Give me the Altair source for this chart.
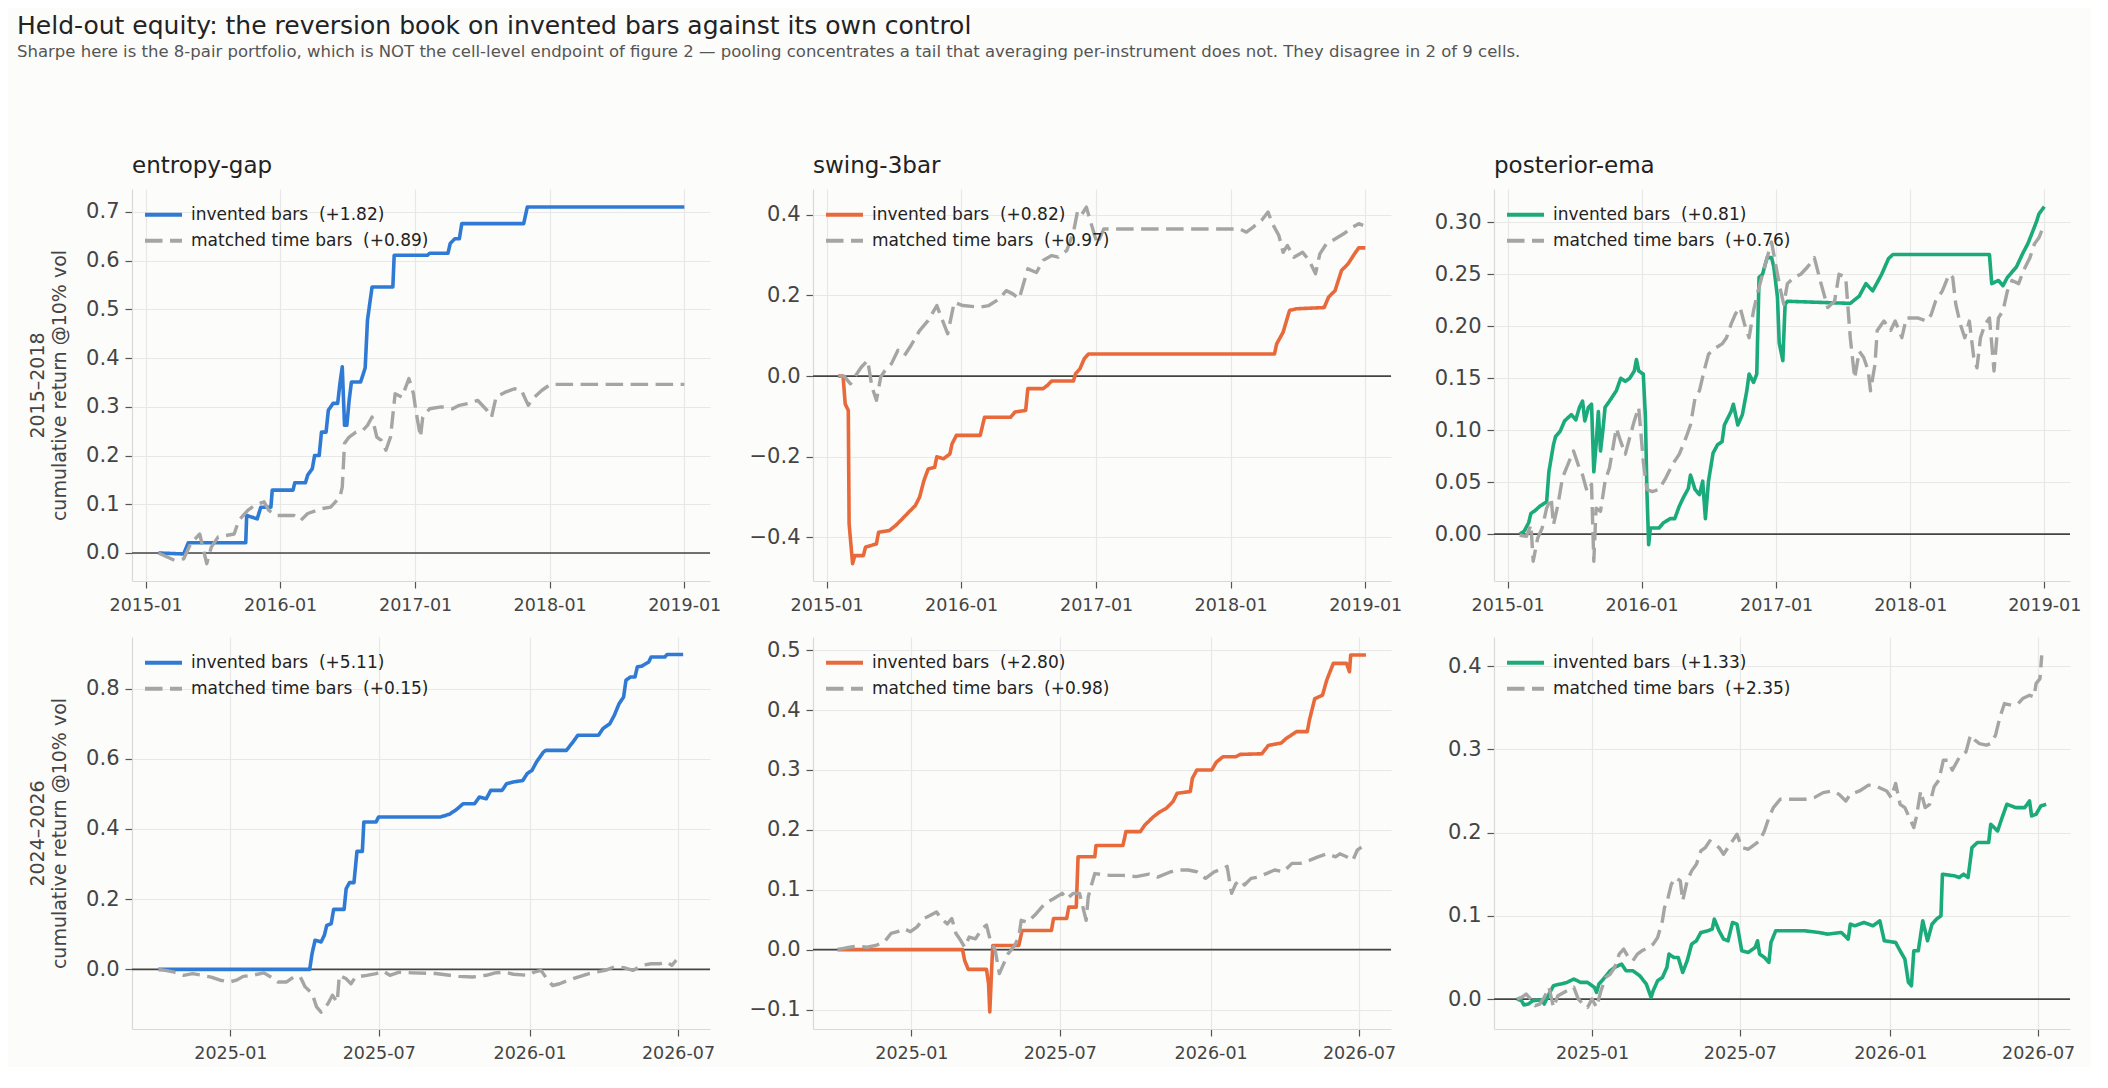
import altair as alt
import pandas as pd

TITLE = "Held-out equity: the reversion book on invented bars against its own control"
SUBTITLE = ("Sharpe here is the 8-pair portfolio, which is NOT the cell-level endpoint of figure 2 \u2014 "
            "pooling concentrates a tail that averaging per-instrument does not. They disagree in 2 of 9 cells.")

STRATEGIES = ["entropy-gap", "swing-3bar", "posterior-ema"]
PERIODS = ["2015\u20132018", "2024\u20132026"]
COLORS = ["#2f7ad4", "#e8693a", "#1aaa7b"]
GRAY = "#a5a5a5"

SHARPE_INV = [["+1.82", "+0.82", "+0.81"], ["+5.11", "+2.80", "+1.33"]]
SHARPE_MAT = [["+0.89", "+0.97", "+0.76"], ["+0.15", "+0.98", "+2.35"]]

# (decimal year, cumulative return)
EG15_INV = [(2015.095, 0.000), (2015.283, -0.002), (2015.317, 0.021), (2015.744, 0.021), (2015.751, 0.077),
            (2015.829, 0.070), (2015.856, 0.094), (2015.931, 0.094), (2015.941, 0.129), (2016.095, 0.129),
            (2016.108, 0.144), (2016.187, 0.144), (2016.204, 0.160), (2016.238, 0.173), (2016.255, 0.200),
            (2016.289, 0.200), (2016.306, 0.248), (2016.340, 0.248), (2016.357, 0.293), (2016.392, 0.307),
            (2016.426, 0.307), (2016.443, 0.348), (2016.460, 0.382), (2016.477, 0.262), (2016.494, 0.262),
            (2016.511, 0.313), (2016.528, 0.351), (2016.596, 0.351), (2016.613, 0.365), (2016.630, 0.380),
            (2016.647, 0.478), (2016.681, 0.546), (2016.835, 0.546), (2016.845, 0.611), (2017.091, 0.611),
            (2017.108, 0.615), (2017.244, 0.615), (2017.261, 0.635), (2017.295, 0.645), (2017.329, 0.645),
            (2017.347, 0.676), (2017.807, 0.676), (2017.834, 0.710), (2019.001, 0.710)]
EG15_MAT = [(2015.095, 0.000), (2015.215, -0.015), (2015.283, -0.012), (2015.334, 0.019), (2015.402, 0.039),
            (2015.454, -0.022), (2015.488, 0.012), (2015.539, 0.033), (2015.658, 0.039), (2015.692, 0.067),
            (2015.761, 0.088), (2015.812, 0.098), (2015.880, 0.105), (2015.914, 0.088), (2015.965, 0.077),
            (2016.102, 0.077), (2016.153, 0.067), (2016.204, 0.081), (2016.306, 0.091), (2016.374, 0.094),
            (2016.443, 0.115), (2016.460, 0.135), (2016.477, 0.225), (2016.511, 0.238), (2016.562, 0.248),
            (2016.613, 0.252), (2016.647, 0.262), (2016.681, 0.279), (2016.716, 0.238), (2016.750, 0.231),
            (2016.784, 0.211), (2016.818, 0.238), (2016.852, 0.327), (2016.903, 0.320), (2016.954, 0.358),
            (2016.988, 0.327), (2017.005, 0.293), (2017.040, 0.238), (2017.057, 0.279), (2017.108, 0.296),
            (2017.193, 0.300), (2017.278, 0.296), (2017.329, 0.303), (2017.398, 0.307), (2017.466, 0.313),
            (2017.534, 0.293), (2017.568, 0.279), (2017.602, 0.320), (2017.670, 0.330), (2017.739, 0.337),
            (2017.790, 0.334), (2017.841, 0.303), (2017.875, 0.317), (2017.943, 0.334), (2017.995, 0.344),
            (2018.012, 0.346), (2019.001, 0.346)]

SW15_INV = [(2015.087, 0.000), (2015.122, 0.000), (2015.138, -0.069), (2015.161, -0.085), (2015.167, -0.366),
            (2015.193, -0.465), (2015.209, -0.445), (2015.273, -0.445), (2015.289, -0.424), (2015.370, -0.416),
            (2015.386, -0.387), (2015.466, -0.383), (2015.514, -0.370), (2015.562, -0.354), (2015.611, -0.337),
            (2015.659, -0.321), (2015.691, -0.300), (2015.723, -0.259), (2015.755, -0.230), (2015.803, -0.226),
            (2015.819, -0.200), (2015.868, -0.205), (2015.916, -0.193), (2015.932, -0.168), (2015.964, -0.147),
            (2016.141, -0.147), (2016.173, -0.102), (2016.366, -0.102), (2016.398, -0.089), (2016.478, -0.085),
            (2016.494, -0.031), (2016.607, -0.031), (2016.639, -0.023), (2016.671, -0.012), (2016.832, -0.012),
            (2016.848, 0.006), (2016.880, 0.018), (2016.912, 0.043), (2016.944, 0.055), (2018.326, 0.055),
            (2018.342, 0.080), (2018.390, 0.109), (2018.438, 0.163), (2018.487, 0.167), (2018.695, 0.170),
            (2018.728, 0.196), (2018.776, 0.212), (2018.824, 0.262), (2018.872, 0.278), (2018.920, 0.303),
            (2018.952, 0.318), (2019.001, 0.318)]
SW15_MAT = [(2015.087, 0.000), (2015.129, 0.000), (2015.177, -0.019), (2015.209, -0.002), (2015.257, 0.022),
            (2015.305, 0.039), (2015.337, -0.027), (2015.370, -0.060), (2015.402, -0.002), (2015.434, 0.014),
            (2015.482, 0.031), (2015.530, 0.064), (2015.578, 0.051), (2015.627, 0.076), (2015.691, 0.113),
            (2015.755, 0.138), (2015.819, 0.175), (2015.852, 0.146), (2015.900, 0.105), (2015.948, 0.183),
            (2016.012, 0.175), (2016.141, 0.171), (2016.205, 0.175), (2016.285, 0.192), (2016.334, 0.212),
            (2016.382, 0.204), (2016.430, 0.192), (2016.494, 0.266), (2016.558, 0.257), (2016.607, 0.287),
            (2016.671, 0.299), (2016.719, 0.295), (2016.783, 0.312), (2016.832, 0.357), (2016.864, 0.411),
            (2016.896, 0.402), (2016.928, 0.419), (2016.960, 0.382), (2017.008, 0.328), (2017.057, 0.365),
            (2018.069, 0.365), (2018.117, 0.357), (2018.165, 0.369), (2018.229, 0.386), (2018.278, 0.407),
            (2018.310, 0.378), (2018.358, 0.349), (2018.390, 0.307), (2018.422, 0.324), (2018.470, 0.295),
            (2018.535, 0.307), (2018.583, 0.287), (2018.631, 0.254), (2018.663, 0.303), (2018.711, 0.328),
            (2018.776, 0.340), (2018.840, 0.353), (2018.904, 0.369), (2018.952, 0.378), (2018.985, 0.374)]

PE15_INV = [(2015.090, 0.000), (2015.124, 0.003), (2015.157, 0.011), (2015.174, 0.020), (2015.208, 0.023),
            (2015.241, 0.027), (2015.291, 0.031), (2015.308, 0.060), (2015.342, 0.086), (2015.358, 0.094),
            (2015.392, 0.099), (2015.425, 0.109), (2015.476, 0.115), (2015.509, 0.110), (2015.536, 0.122),
            (2015.559, 0.128), (2015.576, 0.109), (2015.603, 0.122), (2015.626, 0.125), (2015.643, 0.060),
            (2015.660, 0.086), (2015.677, 0.118), (2015.693, 0.080), (2015.710, 0.099), (2015.727, 0.122),
            (2015.760, 0.128), (2015.811, 0.138), (2015.844, 0.150), (2015.878, 0.147), (2015.911, 0.150),
            (2015.945, 0.157), (2015.961, 0.168), (2015.978, 0.157), (2016.012, 0.154), (2016.028, 0.112),
            (2016.039, 0.041), (2016.052, -0.010), (2016.065, 0.006), (2016.129, 0.006), (2016.162, 0.011),
            (2016.213, 0.015), (2016.246, 0.015), (2016.280, 0.027), (2016.313, 0.036), (2016.347, 0.044),
            (2016.363, 0.057), (2016.397, 0.043), (2016.430, 0.038), (2016.454, 0.051), (2016.474, 0.015),
            (2016.497, 0.051), (2016.531, 0.078), (2016.564, 0.086), (2016.598, 0.089), (2016.615, 0.105),
            (2016.665, 0.118), (2016.682, 0.125), (2016.715, 0.105), (2016.749, 0.115), (2016.782, 0.138),
            (2016.799, 0.154), (2016.832, 0.146), (2016.856, 0.154), (2016.873, 0.247), (2016.899, 0.250),
            (2016.933, 0.266), (2016.966, 0.266), (2016.983, 0.257), (2017.010, 0.228), (2017.023, 0.184),
            (2017.050, 0.167), (2017.067, 0.221), (2017.084, 0.224), (2017.553, 0.222), (2017.620, 0.229),
            (2017.670, 0.241), (2017.720, 0.234), (2017.754, 0.242), (2017.787, 0.250), (2017.838, 0.265),
            (2017.871, 0.269), (2018.591, 0.269), (2018.608, 0.241), (2018.658, 0.244), (2018.692, 0.239),
            (2018.725, 0.247), (2018.792, 0.257), (2018.843, 0.271), (2018.876, 0.279), (2018.910, 0.290),
            (2018.943, 0.301), (2018.960, 0.308), (2019.000, 0.315)]
PE15_MAT = [(2015.090, -0.001), (2015.141, -0.002), (2015.174, 0.009), (2015.191, -0.026), (2015.224, -0.004),
            (2015.258, 0.006), (2015.291, 0.025), (2015.325, 0.035), (2015.342, 0.009), (2015.375, 0.028),
            (2015.409, 0.054), (2015.459, 0.070), (2015.492, 0.080), (2015.526, 0.067), (2015.559, 0.057),
            (2015.593, 0.041), (2015.626, 0.048), (2015.643, -0.026), (2015.660, 0.025), (2015.693, 0.022),
            (2015.727, 0.051), (2015.760, 0.064), (2015.811, 0.102), (2015.844, 0.089), (2015.878, 0.077),
            (2015.911, 0.093), (2015.945, 0.109), (2015.978, 0.122), (2016.012, 0.070), (2016.039, 0.043),
            (2016.079, 0.041), (2016.129, 0.043), (2016.179, 0.054), (2016.229, 0.067), (2016.280, 0.077),
            (2016.330, 0.093), (2016.363, 0.105), (2016.397, 0.131), (2016.430, 0.138), (2016.464, 0.157),
            (2016.497, 0.173), (2016.548, 0.179), (2016.598, 0.183), (2016.631, 0.189), (2016.665, 0.202),
            (2016.698, 0.212), (2016.732, 0.218), (2016.765, 0.202), (2016.799, 0.189), (2016.832, 0.215),
            (2016.866, 0.234), (2016.899, 0.250), (2016.933, 0.266), (2016.966, 0.281), (2017.000, 0.257),
            (2017.034, 0.234), (2017.057, 0.221), (2017.084, 0.241), (2017.134, 0.247), (2017.184, 0.250),
            (2017.234, 0.257), (2017.285, 0.266), (2017.335, 0.241), (2017.385, 0.218), (2017.436, 0.224),
            (2017.469, 0.250), (2017.519, 0.247), (2017.553, 0.189), (2017.586, 0.150), (2017.620, 0.176),
            (2017.653, 0.170), (2017.687, 0.157), (2017.704, 0.138), (2017.737, 0.163), (2017.754, 0.196),
            (2017.804, 0.205), (2017.854, 0.196), (2017.888, 0.205), (2017.938, 0.189), (2017.971, 0.208),
            (2018.055, 0.208), (2018.122, 0.205), (2018.156, 0.211), (2018.189, 0.224), (2018.240, 0.234),
            (2018.290, 0.250), (2018.317, 0.247), (2018.340, 0.221), (2018.374, 0.202), (2018.407, 0.189),
            (2018.441, 0.205), (2018.474, 0.170), (2018.498, 0.160), (2018.524, 0.189), (2018.558, 0.202),
            (2018.591, 0.208), (2018.608, 0.183), (2018.625, 0.157), (2018.658, 0.208), (2018.692, 0.215),
            (2018.725, 0.234), (2018.759, 0.244), (2018.809, 0.241), (2018.843, 0.253), (2018.893, 0.266),
            (2018.926, 0.279), (2018.960, 0.285), (2018.993, 0.296)]

EG24_INV = [(2024.760, 0.000), (2025.265, 0.000), (2025.273, 0.045), (2025.283, 0.083), (2025.303, 0.078),
            (2025.314, 0.097), (2025.322, 0.125), (2025.337, 0.130), (2025.345, 0.171), (2025.380, 0.171),
            (2025.387, 0.230), (2025.398, 0.247), (2025.413, 0.247), (2025.423, 0.336), (2025.441, 0.336),
            (2025.446, 0.420), (2025.487, 0.420), (2025.495, 0.434), (2025.701, 0.434), (2025.732, 0.442),
            (2025.755, 0.455), (2025.778, 0.472), (2025.816, 0.472), (2025.832, 0.491), (2025.855, 0.486),
            (2025.870, 0.510), (2025.908, 0.510), (2025.923, 0.529), (2025.946, 0.534), (2025.977, 0.538),
            (2025.992, 0.558), (2026.008, 0.567), (2026.023, 0.591), (2026.046, 0.619), (2026.054, 0.624),
            (2026.123, 0.624), (2026.145, 0.648), (2026.161, 0.667), (2026.230, 0.667), (2026.245, 0.686),
            (2026.268, 0.700), (2026.283, 0.724), (2026.299, 0.757), (2026.314, 0.776), (2026.322, 0.824),
            (2026.337, 0.833), (2026.352, 0.833), (2026.360, 0.862), (2026.375, 0.864), (2026.398, 0.876),
            (2026.406, 0.890), (2026.452, 0.890), (2026.459, 0.897), (2026.513, 0.897)]
EG24_MAT = [(2024.760, 0.000), (2024.783, -0.003), (2024.813, -0.008), (2024.844, -0.017), (2024.874, -0.012),
            (2024.905, -0.017), (2024.936, -0.022), (2024.966, -0.031), (2024.997, -0.036), (2025.020, -0.031),
            (2025.043, -0.020), (2025.074, -0.017), (2025.112, -0.010), (2025.135, -0.022), (2025.158, -0.036),
            (2025.188, -0.036), (2025.211, -0.022), (2025.234, -0.022), (2025.250, -0.050), (2025.273, -0.069),
            (2025.288, -0.107), (2025.303, -0.122), (2025.326, -0.098), (2025.341, -0.074), (2025.357, -0.093),
            (2025.364, -0.017), (2025.387, -0.027), (2025.403, -0.041), (2025.418, -0.022), (2025.456, -0.017),
            (2025.487, -0.012), (2025.510, -0.005), (2025.533, -0.017), (2025.564, -0.008), (2025.609, -0.010),
            (2025.686, -0.012), (2025.732, -0.017), (2025.763, -0.020), (2025.809, -0.022), (2025.855, -0.017),
            (2025.885, -0.010), (2025.916, -0.008), (2025.946, -0.014), (2025.992, -0.017), (2026.015, -0.008),
            (2026.038, -0.003), (2026.061, -0.031), (2026.077, -0.046), (2026.100, -0.041), (2026.130, -0.031),
            (2026.161, -0.022), (2026.199, -0.012), (2026.222, -0.008), (2026.253, -0.003), (2026.283, 0.007),
            (2026.314, 0.005), (2026.345, -0.003), (2026.375, 0.011), (2026.406, 0.016), (2026.436, 0.016),
            (2026.459, 0.021), (2026.475, 0.011), (2026.490, 0.026)]

SW24_INV = [(2024.754, 0.000), (2025.171, 0.000), (2025.178, -0.018), (2025.190, -0.033), (2025.251, -0.033),
            (2025.258, -0.057), (2025.262, -0.104), (2025.268, -0.035), (2025.272, 0.007), (2025.359, 0.007),
            (2025.370, 0.032), (2025.468, 0.032), (2025.475, 0.052), (2025.519, 0.052), (2025.526, 0.071),
            (2025.551, 0.071), (2025.557, 0.155), (2025.613, 0.155), (2025.617, 0.174), (2025.707, 0.174),
            (2025.717, 0.197), (2025.765, 0.197), (2025.780, 0.208), (2025.809, 0.222), (2025.830, 0.230),
            (2025.852, 0.236), (2025.874, 0.247), (2025.888, 0.261), (2025.932, 0.264), (2025.939, 0.286),
            (2025.954, 0.300), (2026.004, 0.300), (2026.019, 0.313), (2026.041, 0.322), (2026.084, 0.322),
            (2026.099, 0.326), (2026.171, 0.327), (2026.193, 0.341), (2026.236, 0.345), (2026.251, 0.352),
            (2026.287, 0.364), (2026.323, 0.364), (2026.330, 0.383), (2026.348, 0.419), (2026.374, 0.425),
            (2026.388, 0.450), (2026.410, 0.478), (2026.454, 0.478), (2026.464, 0.464), (2026.468, 0.492),
            (2026.519, 0.492)]
SW24_MAT = [(2024.754, 0.000), (2024.794, 0.004), (2024.823, 0.006), (2024.852, 0.004), (2024.881, 0.007),
            (2024.910, 0.013), (2024.932, 0.027), (2024.954, 0.030), (2024.975, 0.035), (2024.997, 0.030),
            (2025.019, 0.038), (2025.041, 0.052), (2025.062, 0.057), (2025.084, 0.063), (2025.099, 0.052),
            (2025.120, 0.043), (2025.135, 0.052), (2025.149, 0.027), (2025.164, 0.016), (2025.178, 0.004),
            (2025.193, 0.021), (2025.214, 0.018), (2025.236, 0.035), (2025.251, 0.041), (2025.265, 0.013),
            (2025.280, -0.001), (2025.294, -0.040), (2025.309, -0.023), (2025.323, -0.007), (2025.345, 0.007),
            (2025.359, 0.021), (2025.367, 0.049), (2025.388, 0.046), (2025.417, 0.060), (2025.446, 0.077),
            (2025.475, 0.085), (2025.504, 0.094), (2025.519, 0.085), (2025.541, 0.094), (2025.562, 0.094),
            (2025.577, 0.063), (2025.584, 0.049), (2025.591, 0.088), (2025.603, 0.110), (2025.613, 0.127),
            (2025.664, 0.124), (2025.707, 0.124), (2025.751, 0.122), (2025.794, 0.126), (2025.823, 0.121),
            (2025.867, 0.130), (2025.896, 0.133), (2025.925, 0.133), (2025.954, 0.130), (2025.983, 0.119),
            (2026.012, 0.130), (2026.041, 0.135), (2026.055, 0.139), (2026.070, 0.094), (2026.084, 0.110),
            (2026.099, 0.116), (2026.113, 0.108), (2026.135, 0.119), (2026.157, 0.121), (2026.186, 0.127),
            (2026.214, 0.133), (2026.243, 0.130), (2026.272, 0.144), (2026.300, 0.144), (2026.330, 0.149),
            (2026.359, 0.155), (2026.388, 0.160), (2026.417, 0.155), (2026.432, 0.160), (2026.454, 0.155),
            (2026.475, 0.149), (2026.490, 0.166), (2026.504, 0.171)]

PE24_INV = [(2024.749, 0.000), (2024.764, -0.002), (2024.772, -0.007), (2024.787, -0.006), (2024.802, -0.002),
            (2024.833, -0.001), (2024.840, -0.006), (2024.856, 0.006), (2024.871, 0.016), (2024.894, 0.018),
            (2024.916, 0.020), (2024.939, 0.024), (2024.962, 0.020), (2024.985, 0.020), (2025.008, 0.014),
            (2025.015, 0.008), (2025.023, 0.018), (2025.038, 0.024), (2025.061, 0.034), (2025.076, 0.038),
            (2025.099, 0.042), (2025.114, 0.034), (2025.137, 0.034), (2025.160, 0.028), (2025.182, 0.018),
            (2025.198, 0.002), (2025.205, 0.010), (2025.220, 0.022), (2025.236, 0.026), (2025.251, 0.038),
            (2025.258, 0.054), (2025.274, 0.050), (2025.289, 0.050), (2025.304, 0.032), (2025.319, 0.046),
            (2025.334, 0.066), (2025.350, 0.070), (2025.365, 0.080), (2025.388, 0.082), (2025.403, 0.084),
            (2025.410, 0.096), (2025.426, 0.082), (2025.441, 0.072), (2025.456, 0.070), (2025.471, 0.092),
            (2025.486, 0.090), (2025.502, 0.058), (2025.524, 0.056), (2025.547, 0.062), (2025.555, 0.070),
            (2025.562, 0.054), (2025.578, 0.050), (2025.593, 0.044), (2025.600, 0.068), (2025.616, 0.082),
            (2025.714, 0.082), (2025.760, 0.080), (2025.790, 0.078), (2025.836, 0.080), (2025.859, 0.072),
            (2025.866, 0.090), (2025.881, 0.088), (2025.912, 0.092), (2025.942, 0.088), (2025.965, 0.094),
            (2025.980, 0.070), (2026.018, 0.068), (2026.033, 0.058), (2026.049, 0.048), (2026.061, 0.020),
            (2026.071, 0.016), (2026.079, 0.058), (2026.094, 0.058), (2026.109, 0.094), (2026.125, 0.070),
            (2026.140, 0.090), (2026.155, 0.096), (2026.170, 0.100), (2026.175, 0.150), (2026.216, 0.148),
            (2026.231, 0.146), (2026.246, 0.150), (2026.261, 0.146), (2026.274, 0.182), (2026.292, 0.188),
            (2026.330, 0.188), (2026.337, 0.210), (2026.360, 0.202), (2026.375, 0.218), (2026.391, 0.234),
            (2026.421, 0.230), (2026.451, 0.230), (2026.467, 0.238), (2026.474, 0.220), (2026.489, 0.222),
            (2026.505, 0.232), (2026.523, 0.234)]
PE24_MAT = [(2024.749, 0.000), (2024.764, 0.002), (2024.780, 0.006), (2024.795, 0.000), (2024.810, -0.008),
            (2024.825, -0.006), (2024.840, 0.002), (2024.856, 0.014), (2024.871, -0.010), (2024.886, 0.004),
            (2024.916, 0.010), (2024.939, 0.014), (2024.954, 0.000), (2024.970, -0.006), (2024.985, -0.010),
            (2025.000, 0.000), (2025.015, -0.010), (2025.030, 0.010), (2025.046, 0.026), (2025.061, 0.030),
            (2025.076, 0.038), (2025.091, 0.054), (2025.106, 0.060), (2025.122, 0.050), (2025.137, 0.046),
            (2025.152, 0.054), (2025.167, 0.058), (2025.190, 0.062), (2025.205, 0.066), (2025.220, 0.074),
            (2025.236, 0.094), (2025.243, 0.110), (2025.251, 0.116), (2025.266, 0.138), (2025.281, 0.146),
            (2025.296, 0.142), (2025.304, 0.118), (2025.319, 0.142), (2025.334, 0.154), (2025.350, 0.162),
            (2025.365, 0.178), (2025.380, 0.182), (2025.395, 0.190), (2025.410, 0.186), (2025.426, 0.182),
            (2025.441, 0.174), (2025.456, 0.182), (2025.471, 0.190), (2025.486, 0.198), (2025.502, 0.182),
            (2025.524, 0.180), (2025.547, 0.186), (2025.562, 0.190), (2025.578, 0.202), (2025.593, 0.218),
            (2025.608, 0.230), (2025.631, 0.240), (2025.714, 0.240), (2025.745, 0.242), (2025.775, 0.248),
            (2025.805, 0.250), (2025.828, 0.246), (2025.851, 0.238), (2025.866, 0.246), (2025.897, 0.250),
            (2025.927, 0.257), (2025.957, 0.255), (2025.988, 0.250), (2026.003, 0.242), (2026.018, 0.259),
            (2026.033, 0.234), (2026.049, 0.230), (2026.064, 0.218), (2026.079, 0.206), (2026.087, 0.218),
            (2026.102, 0.250), (2026.117, 0.230), (2026.132, 0.234), (2026.147, 0.255), (2026.163, 0.263),
            (2026.178, 0.287), (2026.193, 0.287), (2026.208, 0.275), (2026.231, 0.290), (2026.254, 0.297),
            (2026.269, 0.317), (2026.284, 0.311), (2026.299, 0.307), (2026.322, 0.305), (2026.337, 0.307),
            (2026.353, 0.317), (2026.368, 0.339), (2026.383, 0.355), (2026.406, 0.353), (2026.429, 0.355),
            (2026.444, 0.361), (2026.467, 0.365), (2026.482, 0.363), (2026.489, 0.379), (2026.502, 0.385),
            (2026.508, 0.413)]

SERIES = [[(EG15_INV, EG15_MAT), (SW15_INV, SW15_MAT), (PE15_INV, PE15_MAT)],
          [(EG24_INV, EG24_MAT), (SW24_INV, SW24_MAT), (PE24_INV, PE24_MAT)]]

# axis settings per panel
Y_DOMAINS = [[[-0.0575, 0.747], [-0.508, 0.464], [-0.045, 0.332]],
             [[-0.170, 0.947], [-0.1325, 0.522], [-0.036, 0.435]]]
Y_TICKS = [[[0.0, 0.1, 0.2, 0.3, 0.4, 0.5, 0.6, 0.7], [-0.4, -0.2, 0.0, 0.2, 0.4],
            [0.0, 0.05, 0.10, 0.15, 0.20, 0.25, 0.30]],
           [[0.0, 0.2, 0.4, 0.6, 0.8], [-0.1, 0.0, 0.1, 0.2, 0.3, 0.4, 0.5], [0.0, 0.1, 0.2, 0.3, 0.4]]]
Y_FORMATS = [[".1f", ".1f", ".2f"], [".1f", ".1f", ".1f"]]
X_DOMAINS = [[(2014, 11, 25), (2019, 3, 12)], [(2024, 9, 3), (2026, 8, 9)]]
X_TICKS = [[(2015, 1, 1), (2016, 1, 1), (2017, 1, 1), (2018, 1, 1), (2019, 1, 1)],
           [(2025, 1, 1), (2025, 7, 1), (2026, 1, 1), (2026, 7, 1)]]

WIDTHS = [578, 578, 576]
HEIGHT = 392


def to_iso(y):
    yr = int(y // 1)
    start = pd.Timestamp(year=yr, month=1, day=1, tz="UTC")
    end = pd.Timestamp(year=yr + 1, month=1, day=1, tz="UTC")
    return (start + (end - start) * (y - yr)).strftime("%Y-%m-%dT%H:%M:%SZ")


def dt(t):
    return alt.DateTime(year=t[0], month=t[1], date=t[2], utc=True)


def frame(points, label):
    return pd.DataFrame({
        "date": [to_iso(p[0]) for p in points],
        "value": [p[1] for p in points],
        "label": label,
        "i": list(range(len(points))),
    })


def panel(r, c):
    inv_pts, mat_pts = SERIES[r][c]
    inv_lab = f"invented bars\u00a0 ({SHARPE_INV[r][c]})"
    mat_lab = f"matched time bars\u00a0 ({SHARPE_MAT[r][c]})"
    ytitle = [PERIODS[r], "cumulative return @10% vol"] if c == 0 else None

    x = alt.X("date:T",
              scale=alt.Scale(type="utc", domain=[dt(X_DOMAINS[r][0]), dt(X_DOMAINS[r][1])]),
              axis=alt.Axis(values=[dt(t) for t in X_TICKS[r]], format="%Y-%m", title=None))
    y = alt.Y("value:Q",
              scale=alt.Scale(domain=Y_DOMAINS[r][c], nice=False, zero=False),
              axis=alt.Axis(values=Y_TICKS[r][c], format=Y_FORMATS[r][c], title=ytitle))

    leg = alt.Legend(title=None, orient="none", legendX=11, legendY=13, symbolType="stroke",
                     symbolSize=1369, symbolStrokeWidth=4, labelFontSize=17, labelColor="#222222",
                     labelOffset=7, rowPadding=0, clipHeight=25.5, padding=0, labelLimit=500)
    cscale = alt.Scale(domain=[inv_lab, mat_lab], range=[COLORS[c], GRAY])
    dscale = alt.Scale(domain=[inv_lab, mat_lab], range=[[1, 0], [17.5, 7.5]])

    zero = alt.Chart(pd.DataFrame({"value": [0.0]})).mark_rule(
        color="#444444", strokeWidth=1.7).encode(y=y)

    def line(df, width):
        return alt.Chart(df).mark_line(strokeWidth=width, strokeJoin="round").encode(
            x=x, y=y,
            color=alt.Color("label:N", scale=cscale, legend=leg),
            strokeDash=alt.StrokeDash("label:N", scale=dscale, legend=leg),
            order=alt.Order("i:Q"),
        )

    ch = alt.layer(zero, line(frame(inv_pts, inv_lab), 3.6), line(frame(mat_pts, mat_lab), 3.4))
    props = dict(width=WIDTHS[c], height=HEIGHT)
    if r == 0:
        props["title"] = alt.TitleParams(STRATEGIES[c], anchor="start", frame="group", fontSize=23,
                                         fontWeight="normal", color="#222222", offset=11)
    return ch.properties(**props)


panels = [panel(r, c) for r in range(2) for c in range(3)]

chart = alt.concat(*panels, columns=3, spacing={"row": 56, "column": 103}, bounds="flush").resolve_scale(
    color="independent", strokeDash="independent", x="independent", y="independent"
).properties(
    title=alt.TitleParams(TITLE, subtitle=SUBTITLE, anchor="start", frame="group", dx=-115,
                          fontSize=25, fontWeight="normal", color="#222222",
                          subtitleFontSize=16.5, subtitleColor="#555555", subtitlePadding=5, offset=95),
    padding={"left": 9, "top": 5, "right": 10, "bottom": 5},
).configure(
    font="DejaVu Sans", background="#fcfcfa"
).configure_view(
    stroke=None
).configure_axis(
    grid=True, gridColor="#e8e8e8", gridWidth=1.2, domainColor="#d9d9d9", domainWidth=1.2,
    tickColor="#555555", tickSize=7, tickWidth=1.2, labelColor="#444444", labelFont="DejaVu Sans",
    titleFont="DejaVu Sans"
).configure_axisX(
    labelFontSize=17.5, labelPadding=8
).configure_axisY(
    labelFontSize=21, labelPadding=6, minExtent=47, maxExtent=47, titleFontSize=19,
    titleFontWeight="normal", titleColor="#444444", titlePadding=16, titleLineHeight=22
)

chart.save("out.html", embed_options={"renderer": "svg", "actions": False})
